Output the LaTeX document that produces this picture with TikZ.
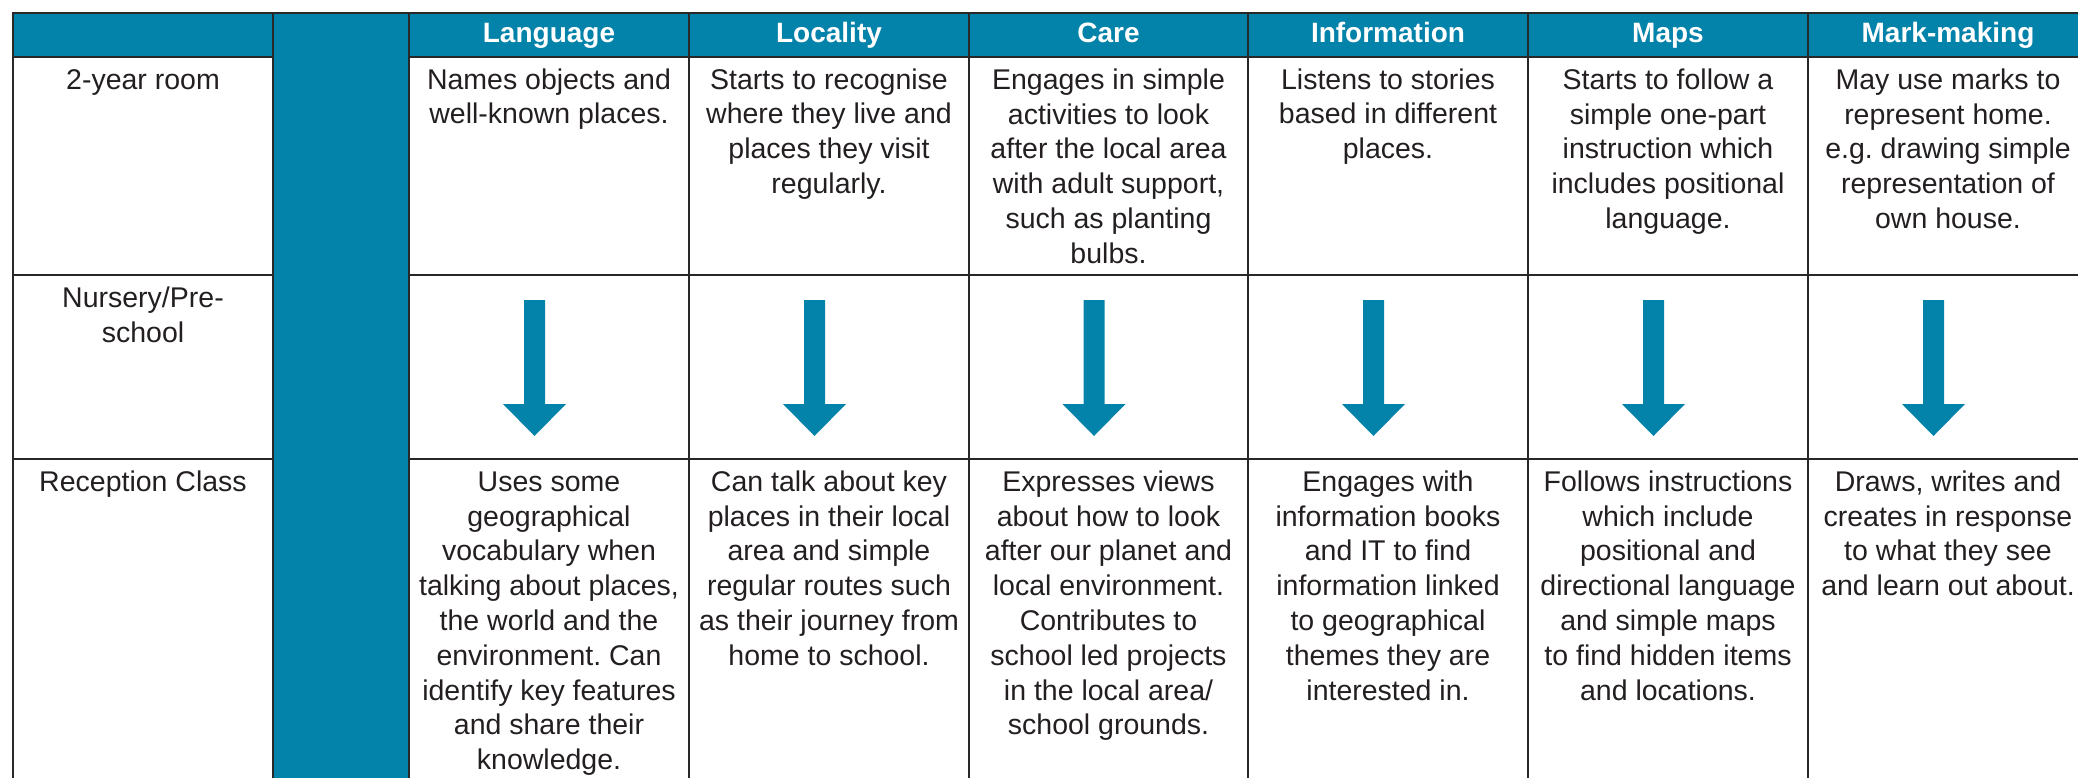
\documentclass[tikz,border=0pt]{standalone}
\usepackage{fontspec}
\setmainfont{Liberation Sans}
\frenchspacing
\definecolor{teal}{RGB}{3,130,170}
\definecolor{grid}{RGB}{40,40,40}
\definecolor{txt}{RGB}{35,31,32}
\newcommand{\bodyfs}{\fontsize{28.5}{34.8}\selectfont}
\newcommand{\headfs}{\fontsize{28}{34}\selectfont\bfseries}
\newcommand{\fl}{\rule{0pt}{23pt}}
\begin{document}
\begin{tikzpicture}[x=1pt,y=-1pt,
  cell/.style={anchor=north, inner sep=0pt, align=center, font=\bodyfs, text=txt},
  head/.style={anchor=base, inner sep=0pt, font=\headfs, text=white},
  gridline/.style={draw=grid, line width=1.6pt, line cap=rect}]
\useasboundingbox (0,0) rectangle (2078,778);
\begin{scope}
\clip (0,0) rectangle (2078,778);
% fills
\fill[teal] (13,13) rectangle (2095,57);
\fill[teal] (273,13) rectangle (409,800);
% horizontal lines
\draw[gridline] (13,13) -- (2095,13);
\foreach \yy in {57,275,459}{
  \draw[gridline] (13,\yy) -- (273,\yy);
  \draw[gridline] (409,\yy) -- (2095,\yy);
}
% vertical lines
\foreach \xx in {13,273,409,689,969,1248,1528,1808}{
  \draw[gridline] (\xx,13) -- (\xx,800);
}
% arrows
\foreach \cc in {549,829,1108.5,1388,1668,1948}{
  \pgfmathsetmacro{\ax}{\cc-14.5}
  \fill[teal] (\ax-10.5,300) -- (\ax+10.5,300) -- (\ax+10.5,404) -- (\ax+31.5,404)
     -- (\ax,436) -- (\ax-31.5,404) -- (\ax-10.5,404) -- cycle;
}
\end{scope}
% headers
\node[head] (hLang) at (549,43) {Language};
\node[head] (hLoc) at (829,43) {Locality};
\node[head] (hCare) at (1108.5,43) {Care};
\node[head] (hInfo) at (1388,43) {Information};
\node[head] (hMaps) at (1668,43) {Maps};
\node[head] (hMark) at (1948,43) {Mark-making};
% row labels
\node[cell] (r1) at (143,66) {\fl 2-year room};
\node[cell] (r2) at (143,284) {\fl Nursery/Pre-\\school};
\node[cell] (r3) at (143,468) {\fl Reception Class};
% row 1
\node[cell] (a1) at (549,66) {\fl Names objects and\\well-known places.};
\node[cell] (b1) at (829,66) {\fl Starts to recognise\\where they live and\\places they visit\\regularly.};
\node[cell] (c1) at (1108.5,66) {\fl Engages in simple\\activities to look\\after the local area\\with adult support,\\such as planting\\bulbs.};
\node[cell] (d1) at (1388,66) {\fl Listens to stories\\based in different\\places.};
\node[cell] (e1) at (1668,66) {\fl Starts to follow a\\simple one-part\\instruction which\\includes positional\\language.};
\node[cell] (f1) at (1948,66) {\fl May use marks to\\represent home.\\e.g. drawing simple\\representation of\\own house.};
% row 3
\node[cell] (a3) at (549,468) {\fl Uses some\\geographical\\vocabulary when\\talking about places,\\the world and the\\environment. Can\\identify key features\\and share their\\knowledge.};
\node[cell] (b3) at (829,468) {\fl Can talk about key\\places in their local\\area and simple\\regular routes such\\as their journey from\\home to school.};
\node[cell] (c3) at (1108.5,468) {\fl Expresses views\\about how to look\\after our planet and\\local environment.\\Contributes to\\school led projects\\in the local area/\\school grounds.};
\node[cell] (d3) at (1388,468) {\fl Engages with\\information books\\and IT to find\\information linked\\to geographical\\themes they are\\interested in.};
\node[cell] (e3) at (1668,468) {\fl Follows instructions\\which include\\positional and\\directional language\\and simple maps\\to find hidden items\\and locations.};
\node[cell] (f3) at (1948,468) {\fl Draws, writes and\\creates in response\\to what they see\\and learn out about.};
\end{tikzpicture}
\end{document}
